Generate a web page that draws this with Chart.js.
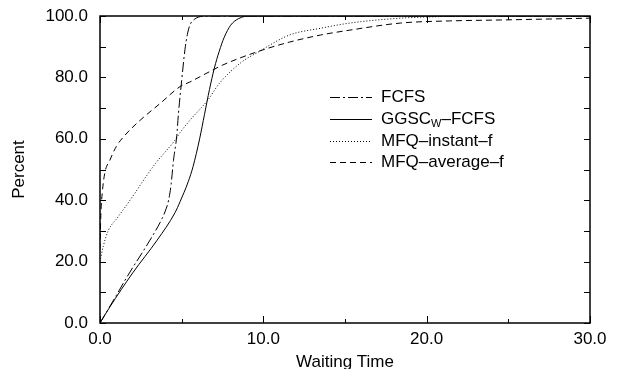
<!DOCTYPE html>
<html>
<head>
<meta charset="utf-8">
<script src="https://cdn.jsdelivr.net/npm/chart.js@4.4.0/dist/chart.umd.min.js"></script>
<style>
  html, body { margin: 0; padding: 0; background: #fff; }
  canvas { display: block; }
</style>
</head>
<body>
<canvas id="chart" width="620" height="369"></canvas>
<script>
// waiting time (x) vs cumulative percent (y)
const fcfsX = [0, 1, 1.65, 3.06, 3.8, 4.0, 4.2, 4.35, 4.5, 4.7, 4.8, 5.0, 5.2, 5.35, 5.5, 5.8, 6.3, 7.0, 30];
const fcfsY = [0, 9, 15, 27, 34, 36.5, 40, 45, 53, 61, 68, 79, 89, 94, 97, 99, 99.9, 100, 100];

const ggscX = [0, 0.6, 2.0, 3.5, 4.6, 4.9, 5.4, 5.7, 6.1, 6.4, 6.7, 7.0, 7.3, 7.6, 8.0, 8.5, 9.2, 30];
const ggscY = [0, 5.2, 16.3, 27, 36, 39.5, 46, 51, 60, 68, 76, 83, 88.5, 93, 97, 99.2, 100, 100];

const instantX = [0, 0.2, 0.5, 1.1, 2.1, 2.6, 3.4, 4.6, 4.9, 5.5, 6.6, 7.3, 8.6, 9.7, 11.6, 13.5, 15.3, 18.4, 20.8, 22, 30];
const instantY = [20, 25, 30, 34.5, 42, 46, 52, 59.6, 62, 66, 72.6, 78, 84.7, 88.3, 93.8, 96, 97.7, 99.3, 99.8, 100, 100];

const averageX = [0, 0.05, 0.15, 0.3, 0.6, 1.0, 1.5, 2.45, 3.7, 4.9, 5.5, 6.9, 7.5, 9.6, 11.6, 13.5, 15.3, 18.4, 21.4, 24.5, 30];
const averageY = [24, 35, 43, 49, 53, 57.5, 61, 66, 71.6, 77, 78.5, 82.4, 84, 88.3, 91.5, 93.8, 95.4, 97.7, 98.4, 98.7, 99.3];

const seriesNames = ["FCFS", "GGSC_W\u2013FCFS", "MFQ\u2013instant\u2013f", "MFQ\u2013average\u2013f"];
const dashes = [[10, 3, 2, 3], [], [1, 2], [6, 4]];

const xMajor = [0, 10, 20, 30];
const xMinor = [5, 15, 25];
const yMajor = [0, 10, 20, 30, 40, 50, 60, 70, 80, 90, 100];

const FONT = "'Liberation Sans', Arial, sans-serif";

function toPoints(xs, ys) {
  return xs.map((x, i) => ({ x: x, y: ys[i] }));
}

// box round the plot with inward ticks on all four sides
const frameTicks = {
  id: "frameTicks",
  afterDatasetsDraw(chart) {
    const { ctx, chartArea: a } = chart;
    const sx = chart.scales.x, sy = chart.scales.y;
    ctx.save();
    ctx.strokeStyle = "#000";
    ctx.lineWidth = 1.5;
    ctx.setLineDash([]);
    ctx.strokeRect(a.left, a.top, a.right - a.left, a.bottom - a.top);
    ctx.lineWidth = 1;
    ctx.beginPath();
    const xt = (v, len) => {
      const px = Math.round(sx.getPixelForValue(v)) + 0.5;
      ctx.moveTo(px, a.bottom); ctx.lineTo(px, a.bottom - len);
      ctx.moveTo(px, a.top); ctx.lineTo(px, a.top + len);
    };
    xMajor.forEach(v => xt(v, 7));
    xMinor.forEach(v => xt(v, 4));
    yMajor.forEach(v => {
      const py = Math.round(sy.getPixelForValue(v)) + 0.5;
      ctx.moveTo(a.left, py); ctx.lineTo(a.left + 6, py);
      ctx.moveTo(a.right, py); ctx.lineTo(a.right - 6, py);
    });
    ctx.stroke();
    ctx.restore();
  }
};

// legend with the subscript W
const sketchLegend = {
  id: "sketchLegend",
  afterDraw(chart) {
    const ctx = chart.ctx;
    const x0 = 330, x1 = 372, tx = 381;
    const rows = [97, 119, 141, 162];
    ctx.save();
    ctx.fillStyle = "#000";
    ctx.strokeStyle = "#000";
    ctx.textBaseline = "middle";
    seriesNames.forEach((name, i) => {
      const y = rows[i] + 0.5;
      ctx.lineWidth = 1;
      ctx.setLineDash(dashes[i]);
      ctx.beginPath();
      ctx.moveTo(x0, y); ctx.lineTo(x1, y);
      ctx.stroke();
      ctx.setLineDash([]);
      const parts = name.split("_W");
      ctx.font = "17px " + FONT;
      if (parts.length === 2) {
        ctx.fillText(parts[0], tx, rows[i]);
        let w = ctx.measureText(parts[0]).width;
        ctx.font = "11px " + FONT;
        ctx.fillText("W", tx + w, rows[i] + 5);
        w += ctx.measureText("W").width;
        ctx.font = "17px " + FONT;
        ctx.fillText(parts[1], tx + w, rows[i]);
      } else {
        ctx.fillText(name, tx, rows[i]);
      }
    });
    ctx.restore();
  }
};

const allX = [fcfsX, ggscX, instantX, averageX];
const allY = [fcfsY, ggscY, instantY, averageY];

new Chart(document.getElementById("chart"), {
  type: "line",
  data: {
    datasets: seriesNames.map((name, i) => ({
      label: name,
      data: toPoints(allX[i], allY[i]),
      borderColor: "#000",
      borderWidth: 1,
      borderDash: dashes[i],
      pointRadius: 0,
      fill: false,
      cubicInterpolationMode: "monotone"
    }))
  },
  options: {
    responsive: false,
    animation: false,
    layout: { padding: { top: 16, right: 30, left: 0, bottom: 0 } },
    plugins: { legend: { display: false }, tooltip: { enabled: false } },
    scales: {
      x: {
        type: "linear",
        min: 0, max: 30,
        grid: { display: false, drawTicks: false },
        border: { display: false },
        ticks: {
          stepSize: 10,
          padding: 6,
          color: "#000",
          font: { family: FONT, size: 17 },
          callback: v => v.toFixed(1)
        },
        title: {
          display: true,
          text: "Waiting Time",
          color: "#000",
          font: { family: FONT, size: 17 },
          padding: { top: 0, bottom: -4 }
        },
        afterFit: s => { s.height = 46; s.paddingLeft = 0; s.paddingRight = 0; }
      },
      y: {
        min: 0, max: 100,
        grid: { display: false, drawTicks: false },
        border: { display: false },
        ticks: {
          stepSize: 20,
          padding: 12,
          color: "#000",
          font: { family: FONT, size: 17 },
          callback: v => v.toFixed(1)
        },
        title: {
          display: true,
          text: "Percent",
          color: "#000",
          font: { family: FONT, size: 17 },
          padding: { top: 9, bottom: 0 }
        },
        afterFit: s => { s.width = 100; s.paddingTop = 0; s.paddingBottom = 0; }
      }
    }
  },
  plugins: [frameTicks, sketchLegend]
});
</script>
</body>
</html>
